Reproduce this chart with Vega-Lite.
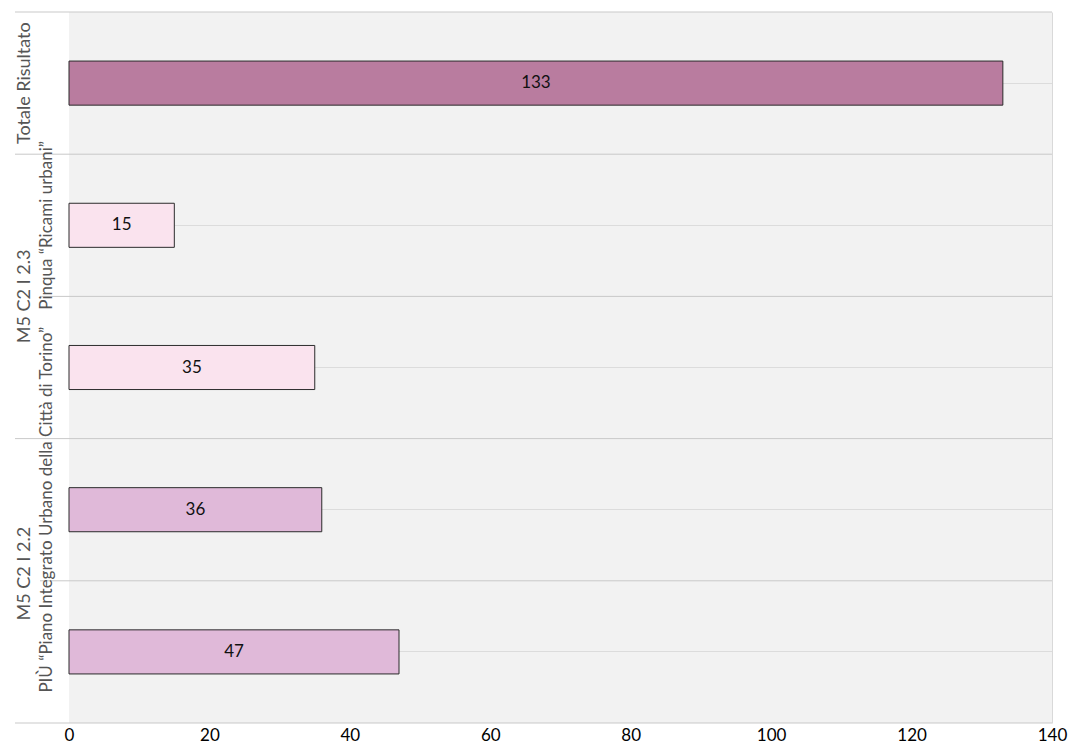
{
  "$schema": "https://vega.github.io/schema/vega-lite/v6.json",
  "width": 983,
  "height": 711,
  "autosize": {"type": "none"},
  "padding": {"left": 69, "top": 12, "right": 23, "bottom": 24},
  "background": "white",
  "config": {
    "view": {"fill": "#f2f2f2", "stroke": null},
    "font": "Lato"
  },
  "datasets": {
    "bars": [
      {"id": "a", "serie": "Totale", "value": 133},
      {"id": "b", "serie": "M5 C2 I 2.3", "value": 15},
      {"id": "c", "serie": "M5 C2 I 2.3", "value": 35},
      {"id": "d", "serie": "M5 C2 I 2.2", "value": 36},
      {"id": "e", "serie": "M5 C2 I 2.2", "value": 47}
    ],
    "lines": [
      {"i": 0, "level": "outer"},
      {"i": 1, "level": "outer"},
      {"i": 2, "level": "inner"},
      {"i": 3, "level": "outer"},
      {"i": 4, "level": "inner"},
      {"i": 5, "level": "outer"}
    ],
    "labels": [
      {"text": "Totale Risultato", "pos": 0.5, "level": "outer"},
      {"text": "M5 C2 I 2.3", "pos": 2, "level": "outer"},
      {"text": "M5 C2 I 2.2", "pos": 3.95, "level": "outer"},
      {"text": "Pinqua “Ricami urbani”", "pos": 1.5, "level": "inner"},
      {"text": "PIÙ “Piano Integrato Urbano della Città di Torino”", "pos": 3.5, "level": "inner"}
    ]
  },
  "layer": [
    {
      "layer": [
        {
          "data": {"name": "lines"},
          "transform": [{"filter": "datum.level == 'outer'"}],
          "mark": {"type": "rule", "color": "#c9c9c9", "strokeWidth": 1},
          "encoding": {
            "y": {"field": "i", "type": "quantitative", "scale": {"domain": [0, 5], "reverse": true, "nice": false, "zero": false}, "axis": null},
            "x": {"datum": -7.69, "type": "quantitative"},
            "x2": {"datum": 140}
          }
        },
        {
          "data": {"name": "lines"},
          "transform": [{"filter": "datum.level == 'inner'"}],
          "mark": {"type": "rule", "color": "#c9c9c9", "strokeWidth": 1},
          "encoding": {
            "y": {"field": "i", "type": "quantitative"},
            "x": {"datum": -4.13, "type": "quantitative"},
            "x2": {"datum": 140}
          }
        },
        {
          "data": {"name": "labels"},
          "transform": [{"filter": "datum.level == 'outer'"}],
          "mark": {"type": "text", "angle": 270, "align": "center", "baseline": "middle", "fontSize": 18, "color": "#555555"},
          "encoding": {
            "y": {"field": "pos", "type": "quantitative"},
            "x": {"datum": -6.27, "type": "quantitative"},
            "text": {"field": "text"}
          }
        },
        {
          "data": {"name": "labels"},
          "transform": [{"filter": "datum.level == 'inner'"}],
          "mark": {"type": "text", "angle": 270, "align": "center", "baseline": "middle", "fontSize": 17, "color": "#555555"},
          "encoding": {
            "y": {"field": "pos", "type": "quantitative"},
            "x": {"datum": -3.13, "type": "quantitative"},
            "text": {"field": "text"}
          }
        }
      ]
    },
    {
      "data": {"name": "bars"},
      "encoding": {
        "y": {
          "field": "id", "type": "nominal",
          "scale": {"domain": ["a", "b", "c", "d", "e"], "paddingInner": 0.69, "paddingOuter": 0.345},
          "axis": {"labels": false, "ticks": false, "title": null, "domain": true, "domainColor": "#d9d9d9", "grid": true, "gridColor": "#dcdcdc", "bandPosition": 0.5}
        }
      },
      "layer": [
        {
          "mark": {"type": "bar", "stroke": "#2b2b2b", "strokeWidth": 1},
          "encoding": {
            "x": {
              "field": "value", "type": "quantitative",
              "scale": {"domain": [0, 140], "nice": false, "zero": true},
              "axis": {"domain": false, "ticks": false, "grid": false, "labelFontSize": 17, "labelColor": "#000000", "labelPadding": 4, "labelFlush": false, "title": null, "values": [0, 20, 40, 60, 80, 100, 120, 140]}
            },
            "color": {
              "field": "serie", "type": "nominal",
              "scale": {"domain": ["Totale", "M5 C2 I 2.3", "M5 C2 I 2.2"], "range": ["#b97c9f", "#fae3ee", "#e0b9d9"]},
              "legend": null
            }
          }
        },
        {
          "transform": [{"calculate": "datum.value / 2", "as": "mid"}],
          "mark": {"type": "text", "fontSize": 17, "color": "#111111", "align": "center", "baseline": "middle"},
          "encoding": {
            "x": {"field": "mid", "type": "quantitative"},
            "text": {"field": "value", "type": "quantitative"}
          }
        }
      ]
    }
  ],
  "resolve": {"scale": {"y": "independent"}}
}
